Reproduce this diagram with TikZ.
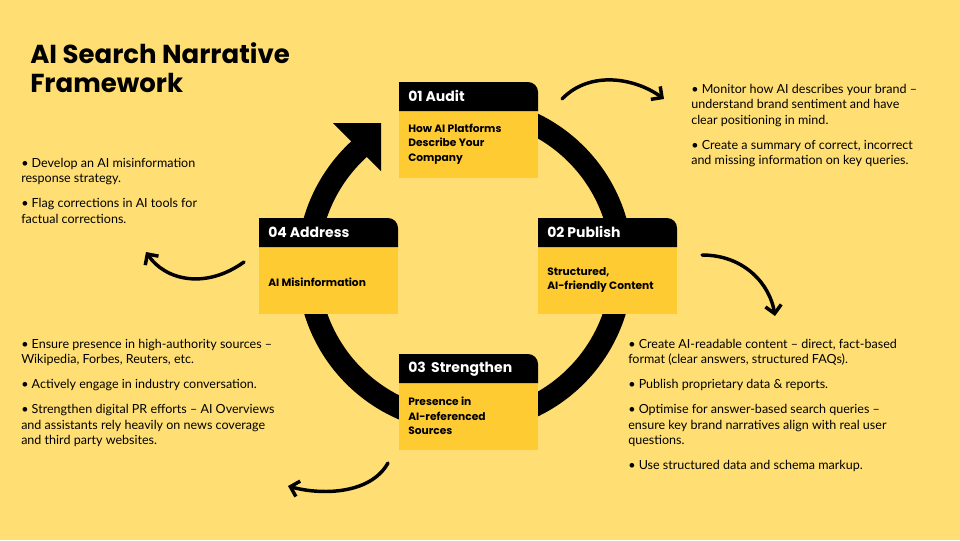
\documentclass[tikz,border=0pt]{standalone}
\usepackage{fontspec}
\setmainfont{Lato}
\newfontfamily\pop{Poppins}
\usetikzlibrary{arrows.meta}
\definecolor{bg}{HTML}{FFDF73}
\definecolor{card}{HTML}{FECB32}
\begin{document}
\begin{tikzpicture}[x=0.75pt,y=-0.75pt,
  htxt/.style={anchor=west,text=white,font=\pop\bfseries\fontsize{10.5}{12}\selectfont,inner sep=0},
  btxt/.style={anchor=west,align=left,font=\pop\bfseries\fontsize{8}{11}\selectfont,inner sep=0},
  body/.style={anchor=north west,align=left,font=\fontsize{9.4}{11.6}\selectfont,inner sep=0},
  curv/.style={line width=2.6pt,line cap=round,-{Straight Barb[length=6pt,width=12pt,line width=2.6pt]}}]
\fill[bg] (0,0) rectangle (960,540);
\useasboundingbox (0,0) rectangle (960,540);
% ring
\draw[line width=16.5pt] (465,265) ++(-95:157) arc[start angle=-95,end angle=232,radius=157];
\fill (333,123) -- (381,123) -- (381,171) -- cycle;
% cards
\foreach \x/\y in {399/82,538/218,399/354,259/218}{
  \fill[card] (\x,\y+28) rectangle (\x+139,\y+96);
  \fill[black] (\x,\y+29) -- (\x,\y) -- (\x+129,\y) arc[start angle=-90,end angle=0,radius=10] -- (\x+139,\y+29) -- cycle;
}
\node[htxt] (h1) at (408,96) {01 Audit};
\node[htxt] (h2) at (547,232) {02 Publish};
\node[htxt] (h3) at (408,369) {03\, Strengthen};
\node[htxt] (h4) at (268,232) {04 Address};
\node[btxt] (t1) at (408,144) {How AI Platforms\\Describe Your\\Company};
\node[btxt] (t2) at (547,280) {Structured,\\AI-friendly Content};
\node[btxt] (t3) at (408,416) {Presence in\\AI-referenced\\Sources};
\node[btxt] (t4) at (268,282) {AI Misinformation};
% title
\node[anchor=north west,align=left,font=\pop\bfseries\fontsize{19.5}{22}\selectfont,inner sep=0] (title) at (30,42) {AI Search Narrative\\Framework};
% curved arrows
\coordinate (a1s) at (562,99); \coordinate (a1e) at (664,99);
\draw[curv] (a1s) .. controls (590,70) and (635,78) .. (a1e);
\coordinate (a2s) at (702,255); \coordinate (a2e) at (775,316);
\draw[curv] (a2s) .. controls (745,255) and (770,285) .. (a2e);
\coordinate (a3s) at (244,262); \coordinate (a3e) at (146,252);
\draw[curv] (a3s) .. controls (205,290) and (165,280) .. (a3e);
\coordinate (a4s) at (388,463); \coordinate (a4e) at (288,486);
\draw[curv] (a4s) .. controls (370,495) and (320,495) .. (a4e);
% texts
\node[body] (r1) at (691,84) {• Monitor how AI describes your brand –\\understand brand sentiment and have\\clear positioning in mind.\\[7pt]• Create a summary of correct, incorrect\\and missing information on key queries.};
\node[body] (l1) at (21,158) {• Develop an AI misinformation\\response strategy.\\[7pt]• Flag corrections in AI tools for\\factual corrections.};
\node[body] (l2) at (21,339) {• Ensure presence in high-authority sources –\\Wikipedia, Forbes, Reuters, etc.\\[7pt]• Actively engage in industry conversation.\\[7pt]• Strengthen digital PR efforts – AI Overviews\\and assistants rely heavily on news coverage\\and third party websites.};
\node[body] (r2) at (628,339) {• Create AI-readable content – direct, fact-based\\format (clear answers, structured FAQs).\\[7pt]• Publish proprietary data \& reports.\\[7pt]• Optimise for answer-based search queries –\\ensure key brand narratives align with real user\\questions.\\[7pt]• Use structured data and schema markup.};
\end{tikzpicture}
\end{document}
